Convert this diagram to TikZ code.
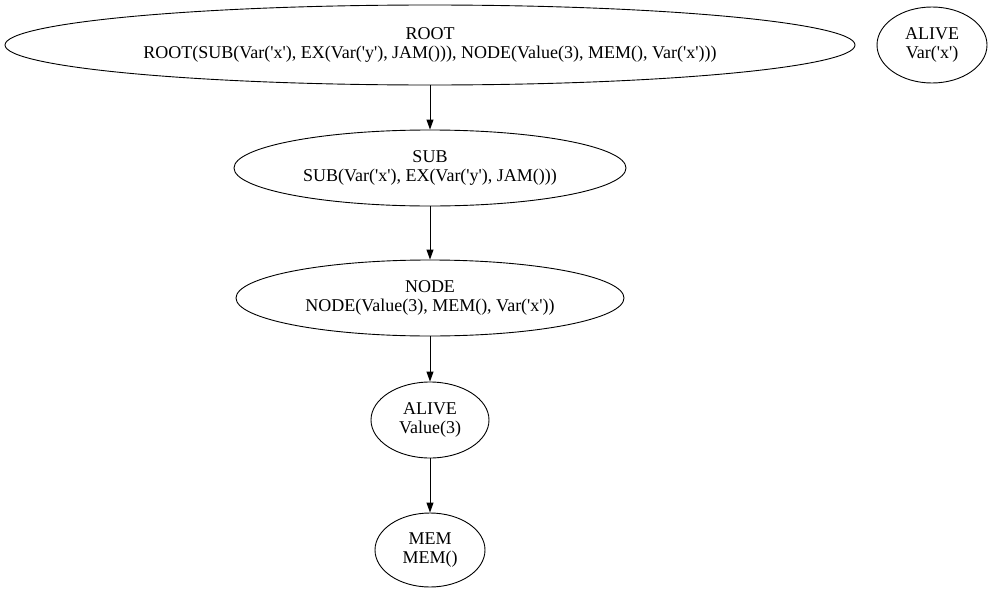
\documentclass[tikz,border=0pt]{standalone}
\usepackage{fontspec}
\setmainfont{Liberation Serif}[Ligatures=TeXOff]
\usetikzlibrary{shapes.geometric, arrows.meta}

\begin{document}
\begin{tikzpicture}[x=1pt,y=-1pt]

\tikzset{term/.style = {shape=ellipse,draw,line width=0.9pt,inner sep=0pt,align=center,font=\fontsize{18}{19}\selectfont}}
\tikzset{edge/.style = {line width=0.9pt,-{Triangle[length=10pt,width=7pt]}}}
\useasboundingbox (0,0) rectangle (990,589);
%terms
\node[term, minimum width=850pt, minimum height=80pt] (root) at (430,45) {ROOT\\ROOT(SUB(Var('x'), EX(Var('y'), JAM())), NODE(Value(3), MEM(), Var('x')))};
\node[term, minimum width=110pt, minimum height=76pt] (alivex) at (932,45) {ALIVE\\Var('x')};
\node[term, minimum width=392pt, minimum height=76pt] (sub) at (430,168) {SUB\\SUB(Var('x'), EX(Var('y'), JAM()))};
\node[term, minimum width=388pt, minimum height=76pt] (node) at (430,298) {NODE\\NODE(Value(3), MEM(), Var('x'))};
\node[term, minimum width=118pt, minimum height=76pt] (alive3) at (430,420) {ALIVE\\Value(3)};
\node[term, minimum width=110pt, minimum height=74pt] (mem) at (430,550) {MEM\\MEM()};
\draw [edge] (root) -- (sub);
\draw [edge] (sub) -- (node);
\draw [edge] (node) -- (alive3);
\draw [edge] (alive3) -- (mem);

\end{tikzpicture}
\end{document}
